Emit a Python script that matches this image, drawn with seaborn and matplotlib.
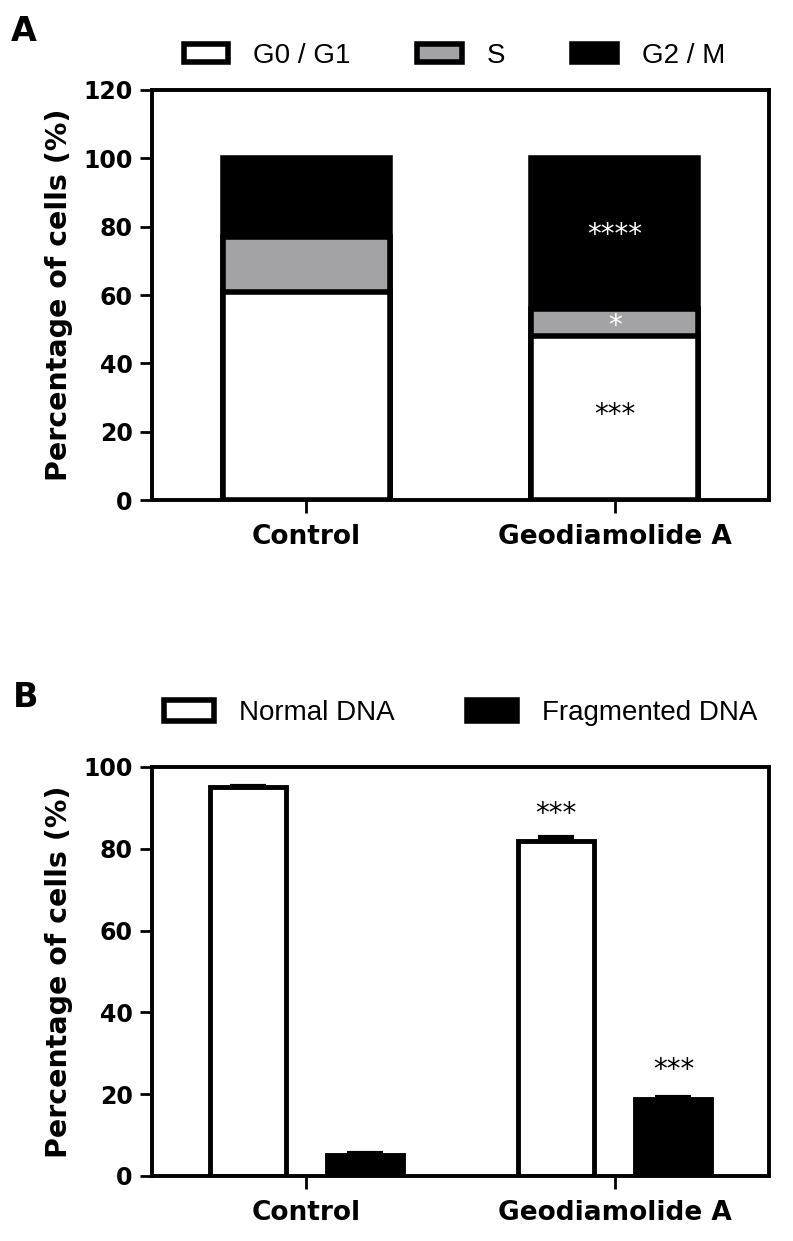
import matplotlib
matplotlib.use('Agg')
import matplotlib.pyplot as plt
from matplotlib.patches import Patch
import numpy as np
import pandas as pd
import seaborn as sns

# panel A: cell-cycle phase distribution (%)
groups = ['Control', 'Geodiamolide A']
phase_labels = ['G0 / G1', 'S', 'G2 / M']
g0g1 = [61, 48]
s_phase = [16, 8]
g2m = [23, 44]
phase_colors = ['white', '#a3a3a6', 'black']

# panel B: DNA content (%), mean and SEM
dna_labels = ['Normal DNA', 'Fragmented DNA']
normal_dna = [95.1, 82.0]
normal_sem = [0.3, 0.8]
frag_dna = [5.2, 18.7]
frag_sem = [0.3, 0.7]
dna_colors = ['white', 'black']

sns.set_style('ticks')
plt.rcParams['font.family'] = ['DejaVu Sans']
plt.rcParams.update({'text.color': 'black', 'axes.labelcolor': 'black',
                     'xtick.color': 'black', 'ytick.color': 'black'})

TICK_FONT = dict(family='DejaVu Sans', weight='bold')
LEG_FONT = dict(family='Liberation Sans', size=20)


def style_axis(ax, ymax, ystep):
    ax.set_xlim(-0.5, 1.5)
    ax.set_ylim(0, ymax)
    ax.set_yticks(np.arange(0, ymax + 1, ystep))
    ax.set_xlabel('')
    ax.set_ylabel('Percentage of cells (%)', fontsize=20.5, labelpad=7, **TICK_FONT)
    for sp in ax.spines.values():
        sp.set_visible(True)
        sp.set_linewidth(2.8)
        sp.set_color('black')
    ax.tick_params(axis='y', length=9, width=2, pad=5, labelsize=17)
    ax.tick_params(axis='x', length=9, width=2, pad=8, labelsize=19)
    for lab in ax.get_xticklabels() + ax.get_yticklabels():
        lab.set_fontfamily('DejaVu Sans')
        lab.set_fontweight('bold')


fig = plt.figure(figsize=(7.93, 12.41), dpi=100)
axA = fig.add_axes([0.1917, 0.597, 0.778, 0.3305])
axB = fig.add_axes([0.1917, 0.0524, 0.778, 0.3296])

# ---- panel A: stacked bars, drawn as cumulative layers from the top down
stack = pd.DataFrame({'group': groups, 'G0 / G1': g0g1, 'S': s_phase, 'G2 / M': g2m})
cum = stack[phase_labels].cumsum(axis=1)
for phase, color in zip(reversed(phase_labels), reversed(phase_colors)):
    sns.barplot(x=stack['group'], y=cum[phase], color=color, saturation=1,
                edgecolor='black', linewidth=4, width=0.54, ax=axA)
style_axis(axA, 120, 20)

star_kw = dict(ha='center', va='center', fontsize=20)
axA.text(1, 77.5, '****', color='white', **star_kw)
axA.text(1, 51, '*', color='white', **star_kw)
axA.text(1, 25, '***', color='black', **star_kw)

handlesA = [Patch(facecolor=c, edgecolor='black', linewidth=4, label=l)
            for l, c in zip(phase_labels, phase_colors)]
axA.legend(handles=handlesA, loc='center', bbox_to_anchor=(0.49, 1.083), ncol=3,
           frameon=False, prop=LEG_FONT, handlelength=1.6, handleheight=0.6,
           handletextpad=0.9, columnspacing=2.4, borderaxespad=0)

# ---- panel B: grouped bars with SEM
dna = pd.DataFrame({
    'group': groups * 2,
    'state': [dna_labels[0]] * 2 + [dna_labels[1]] * 2,
    'pct': normal_dna + frag_dna,
})
sns.barplot(data=dna, x='group', y='pct', hue='state', hue_order=dna_labels,
            palette=dna_colors, saturation=1, edgecolor='black', linewidth=3.5,
            width=0.76, gap=0.35, legend=False, ax=axB)
xs = [p.get_x() + p.get_width() / 2 for p in axB.patches]
axB.errorbar(xs, normal_dna + frag_dna, yerr=[np.zeros(4), normal_sem + frag_sem],
             fmt='none', ecolor='black', elinewidth=3, capsize=13, capthick=3, zorder=5)
style_axis(axB, 100, 20)

axB.text(xs[1], 88.5, '***', color='black', **star_kw)
axB.text(xs[3], 26, '***', color='black', **star_kw)

handlesB = [Patch(facecolor=c, edgecolor='black', linewidth=4, label=l)
            for l, c in zip(dna_labels, dna_colors)]
axB.legend(handles=handlesB, loc='center', bbox_to_anchor=(0.50, 1.132), ncol=2,
           frameon=False, prop=LEG_FONT, handlelength=1.8, handleheight=0.8,
           handletextpad=0.9, columnspacing=2.6, borderaxespad=0)

fig.text(0.014, 0.975, 'A', fontsize=24, fontweight='bold', va='center')
fig.text(0.016, 0.438, 'B', fontsize=24, fontweight='bold', va='center')

fig.savefig('out.png', dpi=100)
